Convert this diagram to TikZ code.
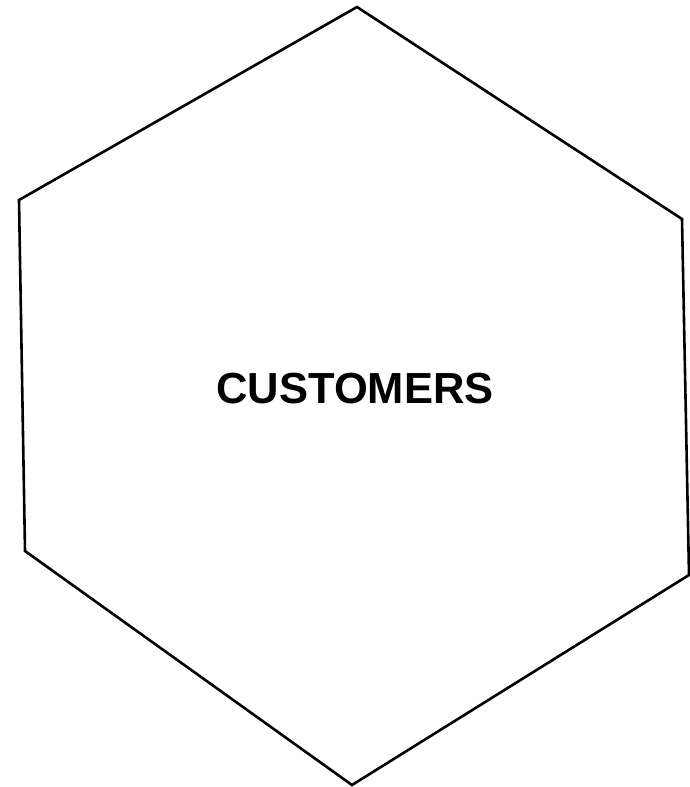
\documentclass[tikz,border=0pt]{standalone}
\usepackage{fontspec}
\setmainfont{Liberation Sans}
\usepackage{tikz}
\usetikzlibrary{positioning}

\begin{document}
\begin{tikzpicture}[x=1pt,y=-1pt,line join=miter,
    hexline/.style={draw=black,line width=2.6pt},
    hexlabel/.style={font=\fontsize{43.5}{52}\selectfont\bfseries,inner sep=0pt}]
      \useasboundingbox (0,0) rectangle (690,787);
      \coordinate (top) at (357,7);
      \coordinate (ur) at (682,219);
      \coordinate (lr) at (689,575);
      \coordinate (bot) at (352,785);
      \coordinate (ll) at (25,551);
      \coordinate (ul) at (19,200);
      \draw[hexline] (top)--(ur)--(lr)--(bot)--(ll)--(ul)--cycle;
      \node[hexlabel] (lbl) at (355,389) {CUSTOMERS};
    \end{tikzpicture}
\end{document}
